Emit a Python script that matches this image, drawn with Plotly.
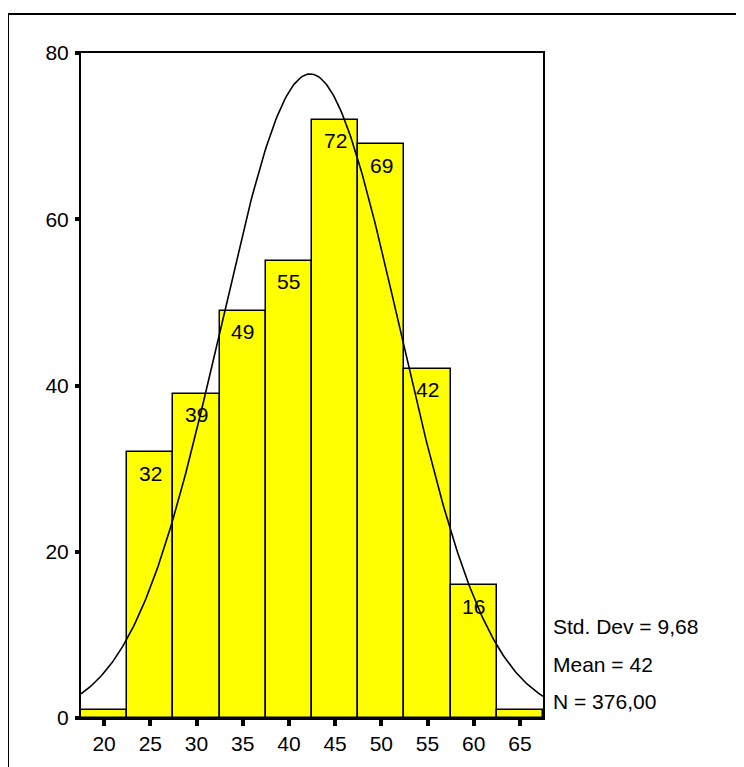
import numpy as np
import plotly.graph_objects as go

# Histogram data (bin centres, counts)
bin_centers = [20, 25, 30, 35, 40, 45, 50, 55, 60, 65]
counts = [1, 32, 39, 49, 55, 72, 69, 42, 16, 1]
bar_labels = ["", "32", "39", "49", "55", "72", "69", "42", "16", ""]
bin_width = 5

# Summary statistics shown on the chart
std_dev = 9.68
mean_shown = 42
curve_mean = 42.3  # unrounded mean
n_total = 376.00
stat_lines = ["Std. Dev = 9,68", "Mean = 42", "N = 376,00"]

x_ticks = [20, 25, 30, 35, 40, 45, 50, 55, 60, 65]
y_ticks = [0, 20, 40, 60, 80]

FONT = "Arial, Liberation Sans, sans-serif"
FS = 21

fig = go.Figure()

fig.add_trace(go.Bar(
    x=bin_centers, y=counts, width=bin_width,
    marker=dict(color="#FFFF00", line=dict(color="black", width=1.5)),
    hoverinfo="skip", showlegend=False,
))

# Fitted normal curve from the displayed std dev / N and the mean
xs = np.linspace(bin_centers[0] - bin_width / 2, bin_centers[-1] + bin_width / 2, 300)
ys = n_total * bin_width / (std_dev * np.sqrt(2 * np.pi)) * np.exp(-0.5 * ((xs - curve_mean) / std_dev) ** 2)
fig.add_trace(go.Scatter(x=xs, y=ys, mode="lines", line=dict(color="black", width=1.6),
                         hoverinfo="skip", showlegend=False))

# Value labels inside the bars near the top
for xc, v, lab in zip(bin_centers, counts, bar_labels):
    if lab:
        fig.add_annotation(x=xc, y=v, text=lab, showarrow=False, yshift=-21,
                           yanchor="middle", xanchor="center",
                           font=dict(family=FONT, size=FS, color="black"))

# Statistics text
for i, line in enumerate(stat_lines):
    fig.add_annotation(xref="paper", yref="paper", x=1.017, y=[0.137, 0.080, 0.025][i],
                       text=line, showarrow=False, xanchor="left", yanchor="middle",
                       font=dict(family=FONT, size=FS, color="black"))

# Outer frame
fig.add_shape(type="rect", xref="paper", yref="paper", x0=-0.158, x1=1.6, y0=-0.3, y1=1.0585,
              line=dict(color="black", width=2), fillcolor="rgba(0,0,0,0)", layer="below")

fig.update_layout(
    width=736, height=759,
    margin=dict(l=73, r=201, t=45, b=47),
    paper_bgcolor="white", plot_bgcolor="white",
    bargap=0,
    font=dict(family=FONT, size=FS, color="black"),
    xaxis=dict(range=[bin_centers[0] - bin_width / 2, bin_centers[-1] + bin_width / 2],
               tickvals=x_ticks, ticktext=[str(t) for t in x_ticks],
               showgrid=False, zeroline=False, showline=True, linecolor="black", linewidth=2,
               mirror=True, ticks="outside", ticklen=6, tickwidth=4, tickcolor="black",
               tickfont=dict(family=FONT, size=FS)),
    yaxis=dict(range=[0, 80], tickvals=y_ticks,
               showgrid=False, zeroline=False, showline=True, linecolor="black", linewidth=2,
               mirror=True, ticks="outside", ticklen=4, tickwidth=4, tickcolor="black",
               ticklabelstandoff=2, tickfont=dict(family=FONT, size=FS)),
)

fig.write_html("out.html")
